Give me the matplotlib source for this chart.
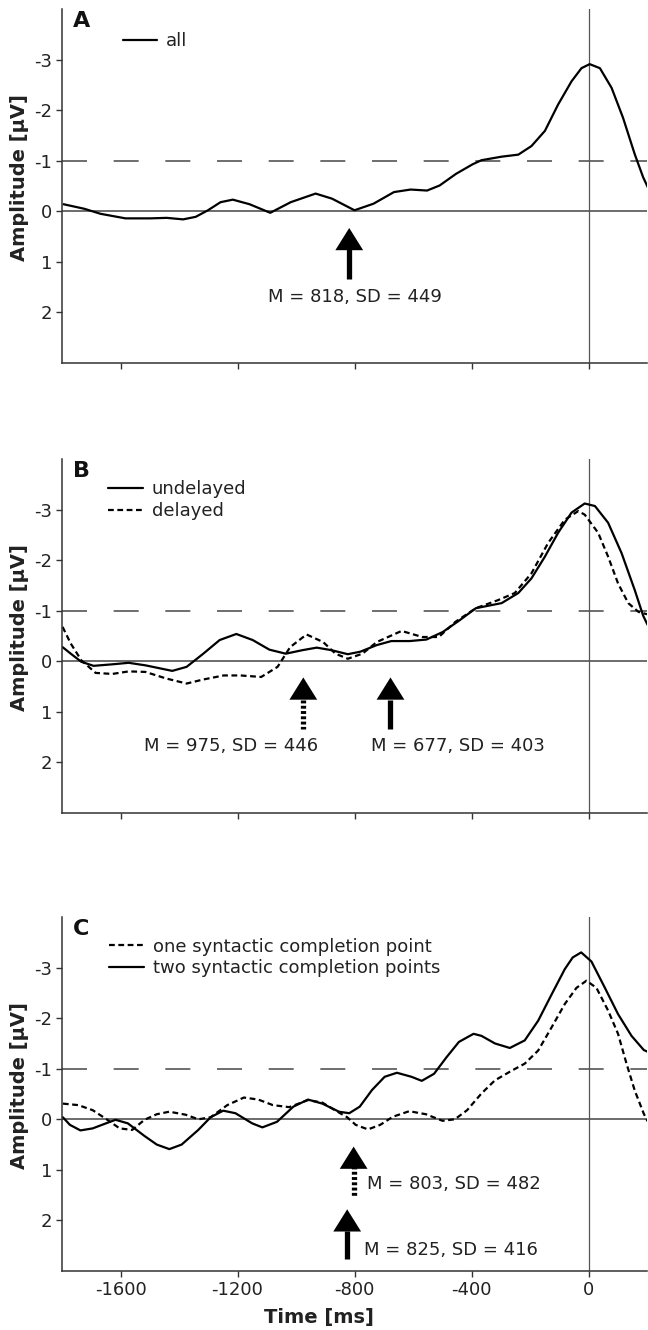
import matplotlib
matplotlib.use("Agg")
from matplotlib import pyplot as plt

# ---- data (time in ms, amplitude in microvolt) ----
a_t = [-1795, -1724, -1668, -1583, -1498, -1442, -1386, -1343, -1301, -1258, -1216, -1159,
       -1088, -1018, -933, -877, -800, -735, -665, -608, -552, -509, -453, -396, -366,
       -297, -240, -195, -149, -104, -58, -24, 4, 39, 79, 118, 158, 187, 204]
a_all = [-0.14, -0.05, 0.05, 0.14, 0.14, 0.13, 0.16, 0.11, -0.02, -0.18, -0.23, -0.14,
         0.03, -0.18, -0.35, -0.25, -0.02, -0.15, -0.38, -0.43, -0.41, -0.51, -0.74, -0.93, -1.01,
         -1.08, -1.12, -1.29, -1.59, -2.11, -2.57, -2.83, -2.91, -2.83, -2.44, -1.85, -1.13, -0.67, -0.46]

b_t_und = [-1798, -1770, -1734, -1692, -1628, -1572, -1515, -1473, -1423, -1374, -1317, -1261,
           -1204, -1148, -1091, -1035, -978, -929, -879, -823, -780, -724, -674, -611, -554,
           -498, -441, -385, -297, -240, -195, -149, -104, -58, -13, 22, 67, 113, 158, 187, 202]
b_undelayed = [-0.28, -0.15, 0.01, 0.09, 0.06, 0.03, 0.08, 0.13, 0.19, 0.11, -0.15, -0.42,
               -0.54, -0.42, -0.23, -0.15, -0.22, -0.27, -0.22, -0.14, -0.19, -0.32, -0.40, -0.40, -0.43,
               -0.58, -0.81, -1.05, -1.15, -1.35, -1.64, -2.07, -2.54, -2.94, -3.12, -3.07, -2.74,
               -2.14, -1.41, -0.90, -0.72]

b_t_del = [-1798, -1770, -1734, -1685, -1628, -1572, -1515, -1444, -1374, -1317, -1247, -1190,
           -1119, -1063, -1020, -964, -907, -865, -823, -773, -724, -639, -568, -512, -455,
           -385, -309, -252, -195, -138, -81, -35, -13, 33, 67, 101, 136, 170, 200]
b_delayed = [-0.68, -0.35, -0.02, 0.23, 0.25, 0.20, 0.21, 0.34, 0.44, 0.36, 0.28, 0.28,
             0.31, 0.11, -0.28, -0.53, -0.38, -0.15, -0.05, -0.15, -0.38, -0.60, -0.48, -0.48, -0.78,
             -1.05, -1.21, -1.35, -1.74, -2.34, -2.80, -2.97, -2.90, -2.54, -2.07, -1.54, -1.15,
             -0.98, -0.93]

c_t_two = [-1797, -1773, -1737, -1695, -1645, -1617, -1575, -1518, -1476, -1433, -1391, -1334,
           -1292, -1249, -1207, -1150, -1115, -1065, -1009, -959, -910, -853, -818, -782, -740,
           -697, -655, -605, -570, -528, -485, -443, -393, -366, -320, -269, -218, -172, -126,
           -81, -54, -25, 10, 56, 101, 147, 189, 204]
c_two = [-0.04, 0.11, 0.22, 0.18, 0.07, 0.01, 0.08, 0.33, 0.50, 0.59, 0.50, 0.21,
         -0.04, -0.17, -0.12, 0.08, 0.16, 0.05, -0.25, -0.39, -0.31, -0.15, -0.12, -0.25, -0.58,
         -0.84, -0.92, -0.84, -0.76, -0.90, -1.23, -1.53, -1.69, -1.65, -1.50, -1.41, -1.56,
         -1.95, -2.47, -2.97, -3.20, -3.30, -3.12, -2.60, -2.08, -1.65, -1.37, -1.33]

c_t_one = [-1797, -1744, -1695, -1645, -1603, -1560, -1518, -1476, -1433, -1377, -1334, -1292,
           -1235, -1178, -1129, -1079, -1023, -959, -910, -867, -825, -796, -754, -712, -669,
           -613, -556, -499, -457, -415, -366, -320, -263, -218, -172, -126, -81, -41, -7,
           27, 67, 101, 130, 158, 189, 202]
c_one = [-0.31, -0.28, -0.18, 0.01, 0.18, 0.21, 0.01, -0.10, -0.15, -0.09, 0.00, -0.04,
         -0.28, -0.43, -0.39, -0.28, -0.24, -0.38, -0.33, -0.18, -0.04, 0.11, 0.20, 0.11, -0.05,
         -0.16, -0.10, 0.03, 0.00, -0.18, -0.51, -0.77, -0.96, -1.10, -1.36, -1.82, -2.28, -2.60,
         -2.74, -2.60, -2.15, -1.69, -1.10, -0.57, -0.11, 0.04]

# mean / SD of the completion points, arrows sit at -M
a_stats = [(818, 449)]
b_stats = [(975, 446), (677, 403)]
c_stats = [(803, 482), (825, 416)]

x_ticks = [-1600, -1200, -800, -400, 0]
y_ticks = [-3, -2, -1, 0, 1, 2]

plt.rcParams['font.family'] = ['DejaVu Sans']
TXT = '#222222'

fig = plt.figure(figsize=(6.48, 13.3), dpi=100)
L, W, H = 62 / 648, 585 / 648, 354 / 1330
ax_a = fig.add_axes([L, 1 - 363 / 1330, W, H])
ax_b = fig.add_axes([L, 1 - 813 / 1330, W, H])
ax_c = fig.add_axes([L, 1 - 1271 / 1330, W, H])

SOLID = dict(color='black', lw=1.6, solid_capstyle='round', solid_joinstyle='round')
DASHED = dict(color='black', lw=1.6, dashes=(2.6, 1.6))


def setup(ax, letter, show_x):
    ax.set_xlim(-1800, 200)
    ax.set_ylim(3, -4)
    for s in ['top', 'right']:
        ax.spines[s].set_visible(False)
    for s in ['left', 'bottom']:
        ax.spines[s].set_color('#333333')
        ax.spines[s].set_linewidth(1.1)
    ax.set_xticks(x_ticks)
    ax.set_yticks(y_ticks)
    ax.set_yticklabels([str(v) for v in y_ticks])
    ax.tick_params(direction='out', length=4, width=1, color='#333333',
                   labelsize=13, labelcolor=TXT, pad=3)
    if not show_x:
        ax.set_xticklabels([])
    else:
        ax.set_xticklabels([str(v) for v in x_ticks])
        ax.set_xlabel('Time [ms]', fontsize=14, fontweight='bold', color=TXT)
        ax.xaxis.set_label_coords(0.44, -0.104)
    ax.axhline(0, color='#444444', lw=1.1, zorder=1)
    ax.axhline(-1, color='#555555', lw=1.2, dashes=(15, 16), zorder=1)
    ax.axvline(0, color='#555555', lw=0.9, zorder=1)
    ax.set_ylabel('Amplitude [µV]', fontsize=14, fontweight='bold', color=TXT)
    ax.yaxis.set_label_coords(-0.056, 0.525)
    ax.text(0.019, 0.965, letter, transform=ax.transAxes, fontsize=16,
            fontweight='bold', va='center', ha='left', color='#111111')


def arrow(ax, x, tip, base, tail, dotted=False):
    if dotted:
        ax.plot([x, x], [base, tail], color='black', lw=3.8,
                linestyle=(0, (0.55, 0.45)), solid_capstyle='butt', dash_capstyle='butt')
    else:
        ax.plot([x, x], [base, tail], color='black', lw=3.8, solid_capstyle='butt')
    ax.annotate('', xy=(x, tip), xytext=(x, base + 0.02),
                arrowprops=dict(arrowstyle='-|>,head_length=16,head_width=10',
                                mutation_scale=1, color='black', lw=0,
                                shrinkA=0, shrinkB=0))


def legend(ax, x, y):
    ax.legend(loc='upper left', bbox_to_anchor=(x, y), frameon=False, fontsize=13,
              handlelength=1.9, handletextpad=0.5, labelspacing=0.2,
              borderpad=0, borderaxespad=0, labelcolor=TXT)


# ---- A ----
setup(ax_a, 'A', False)
ax_a.plot(a_t, a_all, label='all', **SOLID)
legend(ax_a, 0.104, 0.935)
m, sd = a_stats[0]
arrow(ax_a, -m, 0.33, 0.74, 1.33)
ax_a.text(-m + 18, 1.7, f'M = {m}, SD = {sd}', ha='center', va='center', fontsize=13, color=TXT)

# ---- B ----
setup(ax_b, 'B', False)
ax_b.plot(b_t_und, b_undelayed, label='undelayed', **SOLID)
ax_b.plot(b_t_del, b_delayed, label='delayed', **DASHED)
legend(ax_b, 0.079, 0.94)
m, sd = b_stats[0]
arrow(ax_b, -m, 0.32, 0.76, 1.34, dotted=True)
ax_b.text(-m + 50, 1.67, f'M = {m}, SD = {sd}', ha='right', va='center', fontsize=13, color=TXT)
m, sd = b_stats[1]
arrow(ax_b, -m, 0.32, 0.76, 1.34)
ax_b.text(-m - 65, 1.67, f'M = {m}, SD = {sd}', ha='left', va='center', fontsize=13, color=TXT)

# ---- C ----
setup(ax_c, 'C', True)
ax_c.plot(c_t_one, c_one, label='one syntactic completion point', **DASHED)
ax_c.plot(c_t_two, c_two, label='two syntactic completion points', **SOLID)
legend(ax_c, 0.081, 0.942)
m, sd = c_stats[0]
arrow(ax_c, -m, 0.54, 0.92, 1.52, dotted=True)
ax_c.text(-m + 46, 1.27, f'M = {m}, SD = {sd}', ha='left', va='center', fontsize=13, color=TXT)
m, sd = c_stats[1]
arrow(ax_c, -m, 1.78, 2.21, 2.77)
ax_c.text(-m + 57, 2.59, f'M = {m}, SD = {sd}', ha='left', va='center', fontsize=13, color=TXT)

fig.savefig('out.png', dpi=100)
